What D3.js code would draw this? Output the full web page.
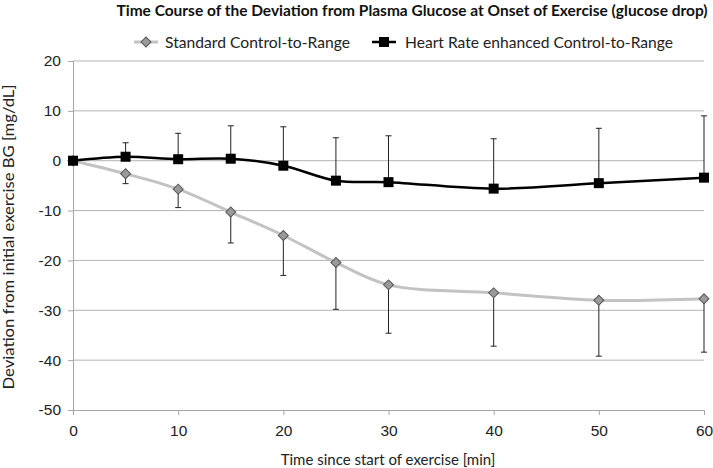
<!DOCTYPE html>
<html><head><meta charset="utf-8">
<script src="https://cdn.jsdelivr.net/npm/d3@7"></script>
<style>body{margin:0;background:#fff}svg{font-family:Lato,"Open Sans",sans-serif}</style>
</head><body><svg id="c" width="713" height="468"></svg>
<script>
const times = [0,5,10,15,20,25,30,40,50,60];
const standardMean = [0,-2.6,-5.7,-10.3,-15.0,-20.4,-24.9,-26.5,-28.0,-27.7];
const standardLow  = [0,-4.6,-9.4,-16.5,-23.0,-29.8,-34.6,-37.2,-39.2,-38.4];
const hrMean = [0,0.8,0.3,0.4,-1.0,-4.0,-4.3,-5.6,-4.5,-3.4];
const hrHigh = [0,3.6,5.5,7.0,6.8,4.6,5.0,4.4,6.5,9.0];
const xTicks = [0,10,20,30,40,50,60];
const yTicks = [20,10,0,-10,-20,-30,-40,-50];
const seriesNames = ["Standard Control-to-Range","Heart Rate enhanced Control-to-Range"];

const svg = d3.select("#c");
const x = d3.scaleLinear().domain([0,60]).range([73,704]);
const y = d3.scaleLinear().domain([-50,20]).range([410,61]);
const fmt = d => String(d);

// gridlines
svg.append("g").selectAll("line").data(yTicks.filter(d=>d>-50)).join("line")
  .attr("x1",x(0)).attr("x2",x(60)).attr("y1",d=>y(d)).attr("y2",d=>y(d))
  .attr("stroke","#b3b3b3").attr("stroke-width",1);

// y axis
const ya = svg.append("g").attr("transform",`translate(${x(0)},0)`)
  .call(d3.axisLeft(y).tickValues(yTicks).tickFormat(fmt).tickSize(5).tickPadding(7));
ya.select(".domain").attr("stroke","#a6a6a6");
ya.selectAll(".tick line").attr("stroke","#a6a6a6");
ya.selectAll("text").attr("font-size",15.5).attr("fill","#222");

// x axis
const xa = svg.append("g").attr("transform",`translate(0,${y(-50)})`)
  .call(d3.axisBottom(x).tickValues(xTicks).tickFormat(fmt).tickSize(5).tickPadding(10).tickSizeOuter(0));
xa.select(".domain").attr("stroke","#a6a6a6");
xa.selectAll(".tick line").attr("stroke","#a6a6a6");
xa.selectAll("text").attr("font-size",15.5).attr("fill","#222");

const line = d3.line().curve(d3.curveCatmullRom.alpha(0.5)).x(d=>x(d[0])).y(d=>y(d[1]));

// error bars
const errStd = times.map((t,i)=>[t,standardMean[i],standardLow[i]]).filter(d=>d[0]>0);
const errHr = times.map((t,i)=>[t,hrMean[i],hrHigh[i]]).filter(d=>d[0]>0);
function drawErr(data){
  const g = svg.append("g").attr("stroke","#222").attr("stroke-width",1);
  g.selectAll("line.v").data(data).join("line").attr("class","v")
    .attr("x1",d=>x(d[0])).attr("x2",d=>x(d[0])).attr("y1",d=>y(d[1])).attr("y2",d=>y(d[2]));
  g.selectAll("line.h").data(data).join("line").attr("class","h")
    .attr("x1",d=>x(d[0])-3).attr("x2",d=>x(d[0])+3).attr("y1",d=>y(d[2])).attr("y2",d=>y(d[2]));
}
drawErr(errStd);
drawErr(errHr);

// lines
svg.append("path").datum(times.map((t,i)=>[t,standardMean[i]]))
  .attr("d",line).attr("fill","none").attr("stroke","#c3c3c3").attr("stroke-width",3);
svg.append("path").datum(times.map((t,i)=>[t,hrMean[i]]))
  .attr("d",line).attr("fill","none").attr("stroke","#000").attr("stroke-width",2.5);

// markers
const diamond = d3.symbol().type(d3.symbolSquare).size(50);
svg.append("g").selectAll("path").data(times.map((t,i)=>[t,standardMean[i]])).join("path")
  .attr("d",diamond).attr("transform",d=>`translate(${x(d[0])},${y(d[1])}) rotate(45)`)
  .attr("fill","#9a9a9a").attr("stroke","#555").attr("stroke-width",1);
svg.append("g").selectAll("rect").data(times.map((t,i)=>[t,hrMean[i]])).join("rect")
  .attr("x",d=>x(d[0])-5).attr("y",d=>y(d[1])-5).attr("width",10).attr("height",10)
  .attr("fill","#000");

// title
svg.append("text").attr("x",412).attr("y",16).attr("text-anchor","middle")
  .attr("font-size",15.4).attr("font-weight","bold").attr("fill","#111")
  .attr("textLength",591).attr("lengthAdjust","spacingAndGlyphs")
  .text("Time Course of the Deviation from Plasma Glucose at Onset of Exercise (glucose drop)");

// legend
const lg = svg.append("g");
lg.append("line").attr("x1",134).attr("x2",158).attr("y1",42).attr("y2",42).attr("stroke","#c3c3c3").attr("stroke-width",3);
lg.append("path").attr("d",diamond).attr("transform","translate(146,42) rotate(45)").attr("fill","#9a9a9a").attr("stroke","#555");
lg.append("text").attr("x",165).attr("y",47.5).attr("font-size",15).attr("fill","#222")
  .attr("textLength",185).attr("lengthAdjust","spacingAndGlyphs").text(seriesNames[0]);
lg.append("line").attr("x1",372).attr("x2",396).attr("y1",42).attr("y2",42).attr("stroke","#000").attr("stroke-width",2.5);
lg.append("rect").attr("x",379).attr("y",37).attr("width",10).attr("height",10).attr("fill","#000");
lg.append("text").attr("x",405).attr("y",47.5).attr("font-size",15).attr("fill","#222")
  .attr("textLength",268).attr("lengthAdjust","spacingAndGlyphs").text(seriesNames[1]);

// axis titles
svg.append("text").attr("x",388).attr("y",465).attr("text-anchor","middle").attr("font-size",15).attr("fill","#222")
  .text("Time since start of exercise [min]");
svg.append("text").attr("transform","translate(14,237) rotate(-90)").attr("text-anchor","middle")
  .attr("font-size",15).attr("fill","#222")
  .attr("textLength",305).attr("lengthAdjust","spacingAndGlyphs")
  .text("Deviation from initial exercise BG [mg/dL]");
</script></body></html>
